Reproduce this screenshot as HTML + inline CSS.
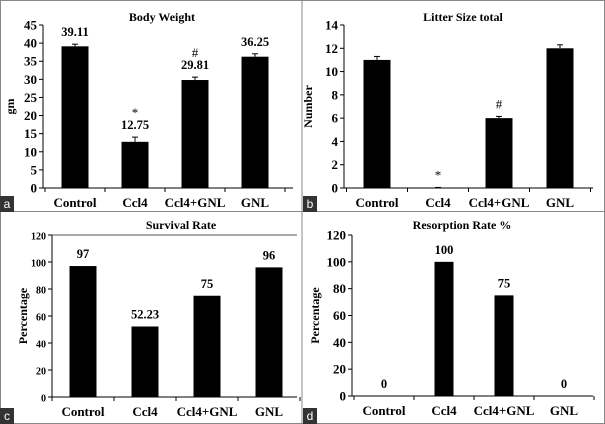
<!DOCTYPE html>
<html><head><meta charset="utf-8"><style>
body{margin:0;background:#fff}
svg{display:block;font-weight:bold}
svg text{font-family:"Liberation Serif","Times New Roman","DejaVu Serif",serif}
svg text.lt{font-family:"Liberation Sans","DejaVu Sans",sans-serif;font-weight:normal}
</style></head><body>
<svg id="s" width="605" height="424" viewBox="0 0 605 424">
<rect x="0.5" y="0.5" width="604" height="423" fill="#fff" stroke="#888"/>
<line x1="302" y1="0" x2="302" y2="424" stroke="#888"/>
<line x1="0" y1="211.5" x2="605" y2="211.5" stroke="#888"/>
</svg>
<script>
const categories = ["Control","Ccl4","Ccl4+GNL","GNL"];
const weightValues = [39.11,12.75,29.81,36.25];
const weightErrors = [0.6,1.3,0.8,0.8];
const weightLabels = ["39.11","12.75","29.81","36.25"];
const weightMarks = ["","*","#",""];
const weightTicks = [0,5,10,15,20,25,30,35,40,45];
const litterValues = [11,0,6,12];
const litterErrors = [0.3,0.05,0.15,0.3];
const litterMarks = ["","*","#",""];
const litterTicks = [0,2,4,6,8,10,12,14];
const survivalValues = [97,52.23,75,96];
const survivalLabels = ["97","52.23","75","96"];
const survivalTicks = [0,20,40,60,80,100,120];
const resorptionValues = [0,100,75,0];
const resorptionLabels = ["0","100","75","0"];
const resorptionTicks = [0,20,40,60,80,100,120];

const NS="http://www.w3.org/2000/svg";
const svg=document.getElementById('s');
const SERIF="Liberation Serif, Times New Roman, DejaVu Serif, serif";
function mk(tag,attrs,parent,text){const e=document.createElementNS(NS,tag);if(tag==='text')e.setAttribute('font-family',SERIF);for(const k in attrs)e.setAttribute(k,attrs[k]);if(text!==undefined)e.textContent=text;(parent||svg).appendChild(e);return e;}

function panel(o){
  const g=mk('g',{});
  
  
  const max=o.ticks[o.ticks.length-1];
  const y=v=>o.y0-(v/max)*(o.y0-o.yTop);
  const x=i=>o.c0+i*o.step;
  const t=mk('text',{x:o.titleX,y:o.titleY,'text-anchor':'middle','font-size':12},g,o.title);
  
  
  const ax=mk('line',{x1:o.ax,y1:o.yTop,x2:o.ax,y2:o.y0,stroke:'#000'},g);
  
  
  const bx=mk('line',{x1:o.ax,y1:o.y0,x2:o.axEnd,y2:o.y0,stroke:'#000'},g);
  
  
  o.ticks.forEach(v=>{
    mk('line',{x1:o.ax-4,y1:y(v),x2:o.ax,y2:y(v),stroke:'#000'},g);
    const tl=mk('text',{x:o.ax-6,y:y(v)+4.5,'text-anchor':'end','font-size':o.tickFs},g,String(v));
    
    
  });
  for(let i=0;i<=4;i++){const xx=o.c0-o.step/2+i*o.step;mk('line',{x1:xx,y1:o.y0,x2:xx,y2:o.y0+4,stroke:'#000'},g);}
  const yl=mk('text',{transform:`translate(${o.ylX},${(o.y0+o.yTop)/2}) rotate(-90)`,'text-anchor':'middle','font-size':12},g,o.ylabel);
  
  
  categories.forEach((c,i)=>{
    const cl=mk('text',{x:x(i),y:o.y0+19,'text-anchor':'middle','font-size':13},g,c);
    
    
    const v=o.values[i];
    if(v>0){
      const r=mk('rect',{x:x(i)-o.bw/2,y:y(v),width:o.bw,height:o.y0-y(v),fill:'#000'},g);
      
      
    }
    let top=y(v);
    if(o.errors){
      const e=o.errors[i];
      mk('line',{x1:x(i),y1:y(v),x2:x(i),y2:y(v+e),stroke:'#000'},g);
      mk('line',{x1:x(i)-3,y1:y(v+e),x2:x(i)+3,y2:y(v+e),stroke:'#000'},g);
      top=y(v+e);
    }
    let ly=top-8;
    if(o.labels){
      const vl=mk('text',{x:x(i),y:ly,'text-anchor':'middle','font-size':12.5},g,o.labels[i]);
      
      
      ly-=14;
    }
    if(o.marks&&o.marks[i]){
      const ml=mk('text',{x:x(i),y:ly+(o.labels?2:0),'text-anchor':'middle','font-size':13,'font-weight':'normal'},g,o.marks[i]);
      
      
    }
  });
  const lb=mk('rect',{x:o.lx,y:o.ly,width:14,height:16,fill:'#333'},g);
  
  
  const lt=mk('text',{x:o.lx+7,y:o.ly+12,'text-anchor':'middle','font-size':12,fill:'#fff','class':'lt','font-family':'Liberation Sans, DejaVu Sans, sans-serif','font-weight':'normal'},g,o.letter);
  
  
}
panel({name:'body-weight-chart',title:'Body Weight',titleX:162,titleY:21,ax:43,axEnd:293,yTop:25,y0:188,c0:75,step:60,bw:27,ticks:weightTicks,values:weightValues,errors:weightErrors,labels:weightLabels,marks:weightMarks,ylabel:'gm',ylX:14,tickFs:13,lx:0,ly:196,letter:'a'});
panel({name:'litter-size-chart',title:'Litter Size total',titleX:463,titleY:21,ax:344,axEnd:593,yTop:25,y0:188,c0:377,step:61,bw:27,ticks:litterTicks,values:litterValues,errors:litterErrors,marks:litterMarks,ylabel:'Number',ylX:312,tickFs:13,lx:303,ly:196,letter:'b'});
panel({name:'survival-rate-chart',title:'Survival Rate',titleX:181,titleY:229,ax:52,axEnd:297,yTop:235,y0:397,c0:83,step:62,bw:27,ticks:survivalTicks,values:survivalValues,labels:survivalLabels,ylabel:'Percentage',ylX:27,tickFs:10,lx:0,ly:408,letter:'c'});
panel({name:'resorption-rate-chart',title:'Resorption Rate %',titleX:462,titleY:229,ax:352,axEnd:593,yTop:235,y0:396,c0:384,step:60,bw:19,ticks:resorptionTicks,values:resorptionValues,labels:resorptionLabels,ylabel:'Percentage',ylX:319,tickFs:13,lx:303,ly:408,letter:'d'});
mk('line',{x1:52,y1:235,x2:297,y2:235,stroke:'#555'});
</script>
</body></html>
